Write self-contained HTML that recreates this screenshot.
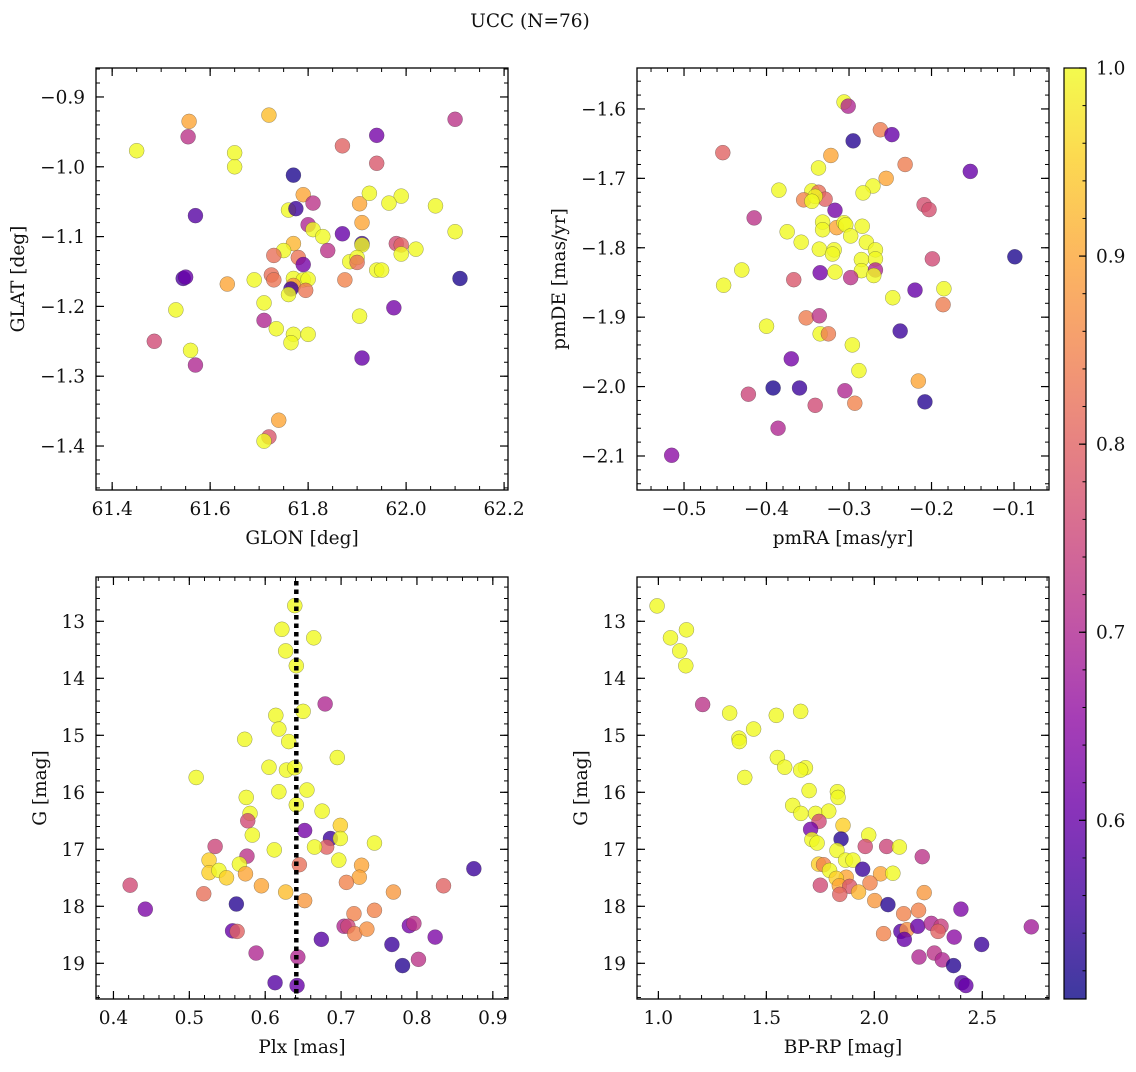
<!DOCTYPE html>
<html><head><meta charset="utf-8">
<style>
body{margin:0;background:#fff;}
svg text{font-family:"DejaVu Serif","Liberation Serif",serif;fill:#111;}
</style></head>
<body>
<svg id="fig" width="1136" height="1067" xmlns="http://www.w3.org/2000/svg">
<text x="530" y="27" font-size="18.5" text-anchor="middle">UCC (N=76)</text>
</svg>
<script>
// ---- data ----
const glon=[61.45,61.557,61.555,61.72,61.65,61.65,61.87,61.94,62.10,61.94,61.77,61.79,61.81,61.76,61.775,61.57,61.905,61.925,61.99,61.965,62.06,61.91,61.80,61.81,61.83,61.87,62.10,61.84,61.77,61.91,61.91,61.98,61.99,61.99,62.02,61.75,61.73,61.78,61.79,61.885,61.90,61.90,61.69,61.725,61.73,61.77,61.79,61.80,61.77,61.875,61.94,61.95,62.11,61.545,61.55,61.635,61.765,61.76,61.795,61.71,61.53,61.71,61.975,61.735,61.905,61.77,61.80,61.765,61.486,61.56,61.57,61.91,61.74,61.72,61.71];
const glat=[-0.977,-0.935,-0.957,-0.926,-0.98,-1.0,-0.97,-0.955,-0.932,-0.995,-1.012,-1.04,-1.052,-1.062,-1.06,-1.07,-1.053,-1.038,-1.042,-1.052,-1.056,-1.08,-1.083,-1.09,-1.1,-1.096,-1.093,-1.12,-1.11,-1.11,-1.112,-1.11,-1.112,-1.125,-1.118,-1.12,-1.127,-1.13,-1.14,-1.136,-1.13,-1.137,-1.162,-1.155,-1.162,-1.16,-1.162,-1.161,-1.17,-1.162,-1.148,-1.148,-1.16,-1.16,-1.158,-1.168,-1.175,-1.183,-1.177,-1.195,-1.205,-1.22,-1.202,-1.232,-1.214,-1.24,-1.24,-1.252,-1.25,-1.263,-1.284,-1.274,-1.363,-1.387,-1.393];
const cTL=[1,.9,.72,.93,1,1,.8,.62,.72,.78,.52,.9,.72,1,.55,.58,.9,1,1,1,1,.9,.7,1,1,.6,1,.72,.92,.55,1,.76,.8,1,1,1,.82,.83,.62,1,1,.82,1,.82,.83,1,1,1,.88,.85,1,1,.52,.57,.6,.9,.55,1,.83,1,1,.7,.62,1,1,1,1,1,.76,1,.7,.6,.9,.78,1];
const pmra=[-0.306,-0.301,-0.262,-0.248,-0.295,-0.453,-0.322,-0.232,-0.337,-0.153,-0.255,-0.271,-0.283,-0.385,-0.345,-0.337,-0.355,-0.329,-0.341,-0.345,-0.317,-0.415,-0.209,-0.203,-0.332,-0.332,-0.315,-0.306,-0.304,-0.284,-0.375,-0.298,-0.358,-0.336,-0.318,-0.32,-0.279,-0.268,-0.268,-0.285,-0.099,-0.199,-0.43,-0.285,-0.268,-0.335,-0.317,-0.298,-0.27,-0.452,-0.367,-0.22,-0.185,-0.247,-0.186,-0.352,-0.336,-0.4,-0.335,-0.325,-0.296,-0.238,-0.37,-0.288,-0.216,-0.392,-0.36,-0.422,-0.305,-0.293,-0.341,-0.208,-0.386,-0.515];
const pmde=[-1.59,-1.596,-1.63,-1.637,-1.646,-1.663,-1.667,-1.68,-1.685,-1.69,-1.70,-1.711,-1.721,-1.717,-1.718,-1.72,-1.731,-1.73,-1.726,-1.733,-1.746,-1.757,-1.738,-1.745,-1.763,-1.774,-1.771,-1.764,-1.767,-1.769,-1.777,-1.783,-1.792,-1.802,-1.803,-1.809,-1.792,-1.803,-1.816,-1.817,-1.813,-1.816,-1.832,-1.833,-1.832,-1.836,-1.835,-1.843,-1.84,-1.854,-1.846,-1.861,-1.859,-1.872,-1.882,-1.901,-1.898,-1.913,-1.924,-1.924,-1.94,-1.92,-1.96,-1.977,-1.992,-2.002,-2.002,-2.011,-2.006,-2.024,-2.027,-2.022,-2.06,-2.099];
const cTR=[1,.7,.84,.6,.53,.8,.9,.84,1,.6,.9,1,1,1,1,.82,.85,.8,1,1,.62,.72,.77,.77,1,1,.9,1,1,1,1,1,1,1,1,1,1,1,1,1,.52,.76,1,1,.7,.62,1,.72,1,1,.78,.6,1,1,.84,.84,.72,1,1,.84,1,.55,.62,1,.9,.52,.55,.75,.7,.85,.76,.53,.7,.65];
const plx=[0.639,0.622,0.664,0.627,0.641,0.679,0.650,0.614,0.618,0.573,0.631,0.695,0.605,0.628,0.639,0.509,0.618,0.655,0.575,0.641,0.675,0.580,0.577,0.699,0.652,0.686,0.699,0.583,0.534,0.681,0.665,0.612,0.744,0.576,0.526,0.697,0.645,0.727,0.566,0.526,0.539,0.549,0.574,0.724,0.875,0.422,0.595,0.707,0.835,0.519,0.627,0.769,0.652,0.442,0.562,0.717,0.744,0.557,0.563,0.704,0.709,0.718,0.734,0.790,0.796,0.824,0.674,0.767,0.588,0.643,0.781,0.802,0.613,0.642];
const gBL=[12.725,13.14,13.29,13.52,13.78,14.45,14.58,14.65,14.89,15.07,15.11,15.39,15.56,15.61,15.57,15.74,15.99,15.96,16.09,16.22,16.33,16.37,16.50,16.58,16.67,16.81,16.81,16.75,16.95,16.96,16.96,17.01,16.89,17.12,17.19,17.19,17.27,17.28,17.26,17.41,17.37,17.50,17.43,17.49,17.34,17.63,17.64,17.58,17.64,17.78,17.75,17.75,17.90,18.05,17.96,18.13,18.07,18.43,18.44,18.35,18.35,18.48,18.40,18.34,18.30,18.54,18.58,18.67,18.82,18.89,19.04,18.93,19.34,19.39];
const cBL=[1,1,1,1,1,.7,1,1,1,1,1,1,1,1,1,1,1,1,1,1,1,1,.76,.95,.62,.55,1,1,.75,.8,1,1,1,.72,.95,1,.82,.9,1,.95,1,.95,.9,.9,.55,.76,.9,.85,.8,.82,.93,.88,.88,.63,.53,.85,.85,.6,.8,.7,.75,.85,.87,.62,.72,.63,.58,.55,.7,.7,.53,.72,.58,.6];
const bprp=[0.994,1.056,1.130,1.099,1.127,1.205,1.330,1.546,1.659,1.441,1.373,1.375,1.551,1.585,1.681,1.659,1.400,1.698,1.829,1.832,1.622,1.660,1.728,1.789,1.744,1.855,1.705,1.974,1.711,1.846,1.735,1.958,2.057,2.116,1.827,1.867,1.901,2.222,1.742,1.765,1.946,1.793,2.029,2.086,1.870,1.824,1.750,1.838,1.886,1.980,1.840,1.927,2.231,2.002,2.063,2.401,2.136,2.205,2.123,2.151,2.201,2.264,2.309,2.295,2.043,2.139,2.370,2.497,2.727,2.207,2.278,2.315,2.367,2.406,2.424];
const gBR=[12.73,13.29,13.15,13.52,13.78,14.46,14.61,14.65,14.58,14.89,15.05,15.11,15.39,15.56,15.57,15.61,15.74,15.97,15.99,16.09,16.23,16.37,16.37,16.33,16.51,16.58,16.65,16.75,16.83,16.82,16.89,16.95,16.95,16.96,17.02,17.19,17.19,17.13,17.26,17.27,17.35,17.37,17.43,17.42,17.49,17.51,17.63,17.64,17.65,17.59,17.79,17.75,17.76,17.90,17.97,18.05,18.13,18.07,18.44,18.41,18.35,18.30,18.35,18.44,18.48,18.58,18.54,18.67,18.36,18.89,18.82,18.94,19.04,19.34,19.39];
const cBR=[1,1,1,1,1,.72,1,1,1,1,1,1,1,1,1,1,1,1,1,1,1,1,1,1,.76,.95,.62,1,1,.53,1,.76,.75,1,1,1,1,.72,.95,.85,.55,1,.9,1,.9,.95,.76,.9,.78,.85,.8,.92,.88,.88,.53,.63,.85,.85,.58,.87,.6,.7,.74,.8,.85,.6,.65,.55,.68,.7,.72,.7,.53,.58,.6];
const plxMedian=[0.641];
const cbTicks=[0.6,0.7,0.8,0.9,1.0];

// ---- helpers ----
const NS="http://www.w3.org/2000/svg";
const svg=document.getElementById('fig');
const FS=18.5;
function mk(tag,attrs,parent){const e=document.createElementNS(NS,tag);for(const k in attrs)e.setAttribute(k,attrs[k]);(parent||svg).appendChild(e);return e;}
const stops=["#0d0887","#41049d","#6a00a8","#8f0da4","#b12a90","#cc4778","#e16462","#f2844b","#fca636","#fcce25","#f0f921"];
function hex(h){return [1,3,5].map(i=>parseInt(h.substr(i,2),16));}
function plasma(t){t=Math.max(0,Math.min(1,t));const f=t*10,i=Math.min(9,Math.floor(f)),r=f-i;const a=hex(stops[i]),b=hex(stops[i+1]);return 'rgb('+a.map((v,k)=>Math.round(v+(b[k]-v)*r)).join(',')+')';}
const VMIN=0.505,VMAX=1.0;
function cmap(c){return plasma((c-VMIN)/(VMAX-VMIN));}
function fmt(v,d){let s=v.toFixed(d);return s.replace('-','\u2212');}

function panel(o){
  const g=mk('g',{});
  
  
  const sx=v=>o.x0+(v-o.xmin)/(o.xmax-o.xmin)*(o.x1-o.x0);
  const sy=v=>o.inv? o.y0+(v-o.ymin)/(o.ymax-o.ymin)*(o.y1-o.y0) : o.y1-(v-o.ymin)/(o.ymax-o.ymin)*(o.y1-o.y0);
  function ticks(min,max,step,cb){const s=Math.ceil(min/step-1e-6);for(let k=s;k*step<=max+1e-9;k++)cb(k*step);}
  ticks(o.xmin,o.xmax,o.xminor,v=>{const x=sx(v);mk('line',{x1:x,x2:x,y1:o.y1,y2:o.y1-4,stroke:'#000','stroke-width':1},g);mk('line',{x1:x,x2:x,y1:o.y0,y2:o.y0+4,stroke:'#000','stroke-width':1},g);});
  ticks(o.ymin,o.ymax,o.yminor,v=>{const y=sy(v);mk('line',{x1:o.x0,x2:o.x0+4,y1:y,y2:y,stroke:'#000','stroke-width':1},g);mk('line',{x1:o.x1,x2:o.x1-4,y1:y,y2:y,stroke:'#000','stroke-width':1},g);});
  ticks(o.xmin,o.xmax,o.xmajor,v=>{const x=sx(v);mk('line',{x1:x,x2:x,y1:o.y1,y2:o.y1-8,stroke:'#000','stroke-width':1.2},g);mk('line',{x1:x,x2:x,y1:o.y0,y2:o.y0+8,stroke:'#000','stroke-width':1.2},g);
    const t=mk('text',{x:x,y:o.y1+25,'font-size':FS,'text-anchor':'middle'},g);t.textContent=fmt(v,o.xd);
    
    });
  ticks(o.ymin,o.ymax,o.ymajor,v=>{const y=sy(v);mk('line',{x1:o.x0,x2:o.x0+8,y1:y,y2:y,stroke:'#000','stroke-width':1.2},g);mk('line',{x1:o.x1,x2:o.x1-8,y1:y,y2:y,stroke:'#000','stroke-width':1.2},g);
    const t=mk('text',{x:o.x0-11,y:y+6.5,'font-size':FS,'text-anchor':'end'},g);t.textContent=fmt(v,o.yd);
    
    });
  o.xs.forEach((xv,i)=>{const c=mk('circle',{cx:sx(xv),cy:sy(o.ys[i]),r:7.5,fill:cmap(o.cs[i]),'fill-opacity':0.8,stroke:'#333','stroke-opacity':0.5,'stroke-width':0.5},g);
    
    });
  if(o.vline){o.vline.forEach(v=>{const l=mk('line',{x1:sx(v),x2:sx(v),y1:o.y0+4,y2:o.y1,stroke:'#000','stroke-width':4.5,'stroke-dasharray':'4.5 4'},g);
    
    });}
  const fr=mk('rect',{x:o.x0,y:o.y0,width:o.x1-o.x0,height:o.y1-o.y0,fill:'none',stroke:'#000','stroke-width':1.3},g);
  
  
  const xl=mk('text',{x:(o.x0+o.x1)/2,y:o.y1+54,'font-size':FS,'text-anchor':'middle'},g);xl.textContent=o.xlabel;
  
  
  const yx=o.x0-o.ylabOff,yy=(o.y0+o.y1)/2;
  const yl=mk('text',{x:yx,y:yy,'font-size':FS,'text-anchor':'middle',transform:`rotate(-90 ${yx} ${yy})`},g);yl.textContent=o.ylabel;
  
  
}
panel({name:'glon-glat-panel',x0:96,x1:508,y0:68,y1:490,xmin:61.367,xmax:62.208,ymin:-1.463,ymax:-0.8585,xmajor:0.2,xminor:0.05,ymajor:0.1,yminor:0.02,xd:1,yd:1,xs:glon,ys:glat,cs:cTL,xlabel:'GLON [deg]',ylabel:'GLAT [deg]',ylabOff:72});
panel({name:'pm-panel',x0:637,x1:1049,y0:68,y1:490,xmin:-0.557,xmax:-0.0576,ymin:-2.149,ymax:-1.541,xmajor:0.1,xminor:0.02,ymajor:0.1,yminor:0.02,xd:1,yd:1,xs:pmra,ys:pmde,cs:cTR,xlabel:'pmRA [mas/yr]',ylabel:'pmDE [mas/yr]',ylabOff:72});
panel({name:'plx-g-panel',x0:96,x1:508,y0:577,y1:999,xmin:0.377,xmax:0.920,ymin:12.223,ymax:19.626,inv:true,xmajor:0.1,xminor:0.02,ymajor:1,yminor:0.2,xd:1,yd:0,xs:plx,ys:gBL,cs:cBL,xlabel:'Plx [mas]',ylabel:'G [mag]',ylabOff:50,vline:plxMedian});
panel({name:'cmd-panel',x0:637,x1:1049,y0:577,y1:999,xmin:0.901,xmax:2.809,ymin:12.223,ymax:19.626,inv:true,xmajor:0.5,xminor:0.1,ymajor:1,yminor:0.2,xd:1,yd:0,xs:bprp,ys:gBR,cs:cBR,xlabel:'BP-RP [mag]',ylabel:'G [mag]',ylabOff:50});

// colorbar
const cb=mk('g',{});


const CX=1064,CW=22,CY0=68,CY1=999;
const defs=mk('defs',{},cb);
const lg=mk('linearGradient',{id:'cbg',x1:0,y1:1,x2:0,y2:0},defs);
for(let i=0;i<=20;i++)mk('stop',{offset:i/20,'stop-color':plasma(i/20),'stop-opacity':0.8},lg);
mk('rect',{x:CX,y:CY0,width:CW,height:CY1-CY0,fill:'url(#cbg)',stroke:'#000','stroke-width':1.2},cb);
const cy=v=>CY1-(v-VMIN)/(VMAX-VMIN)*(CY1-CY0);
for(let v=0.52;v<=1.0001;v+=0.02){mk('line',{x1:CX+CW,x2:CX+CW-3.5,y1:cy(v),y2:cy(v),stroke:'#000','stroke-width':1},cb);}
cbTicks.forEach(v=>{const y=cy(v);mk('line',{x1:CX+CW,x2:CX+CW-7,y1:y,y2:y,stroke:'#000','stroke-width':1.2},cb);
  const t=mk('text',{x:CX+CW+10,y:y+6.5,'font-size':FS},cb);t.textContent=v.toFixed(1);
  
  });
</script>
</body></html>
